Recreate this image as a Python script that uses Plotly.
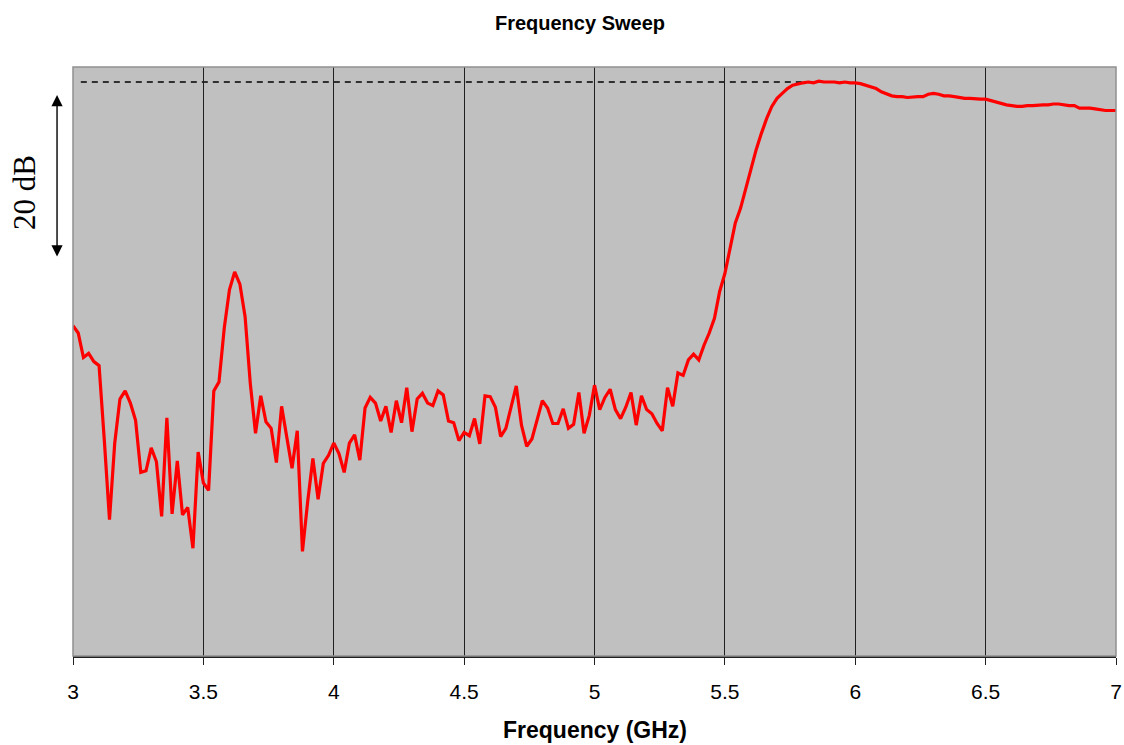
import plotly.graph_objects as go

# Frequency sweep: 3 to 7 GHz in 0.02 GHz steps
f_start = 3.0
f_step = 0.02
# Relative response in dB (0 dB = dashed reference level)
response_db = [
    -29.9, -30.8, -33.8, -33.3, -34.3, -34.8, -43.9, -53.7, -44.3, -38.9,
    -37.9, -39.4, -41.5, -47.9, -47.7, -44.9, -46.6, -53.3, -41.2, -53.0,
    -46.5, -53.1, -52.2, -57.2, -45.4, -49.2, -50.1, -37.9, -36.8, -30.2,
    -25.5, -23.3, -24.8, -28.8, -37.0, -43.1, -38.5, -41.7, -42.5, -46.7,
    -39.8, -43.5, -47.4, -42.8, -57.6, -51.5, -46.2, -51.2, -46.8, -45.8,
    -44.3, -45.6, -47.9, -44.3, -43.3, -46.4, -40.0, -38.7, -39.4, -41.6,
    -39.8, -43.0, -39.1, -41.8, -37.5, -42.9, -38.9, -38.2, -39.4, -39.7,
    -37.9, -38.4, -41.6, -41.8, -44.0, -43.0, -43.4, -41.3, -44.4, -38.5,
    -38.6, -39.9, -43.5, -42.5, -39.8, -37.3, -42.1, -44.7, -43.8, -41.4,
    -39.1, -40.0, -41.9, -41.9, -40.1, -42.5, -42.0, -38.1, -43.1, -40.9,
    -37.2, -40.2, -38.7, -37.7, -40.2, -41.3, -39.9, -38.1, -42.1, -38.5,
    -40.2, -40.7, -41.9, -42.8, -37.5, -39.8, -35.7, -36.0, -34.1, -33.4,
    -34.1, -32.3, -30.8, -29.0, -25.7, -23.5, -20.4, -17.3, -15.5, -13.0,
    -10.6, -8.3, -6.3, -4.5, -3.0, -2.0, -1.4, -0.8, -0.4, -0.2,
    -0.1, 0.0, -0.1, 0.1, 0.0, 0.0, 0.0, -0.1, 0.0, -0.1,
    -0.1, -0.2, -0.4, -0.6, -0.8, -1.2, -1.5, -1.7, -1.8, -1.8,
    -1.9, -1.8, -1.8, -1.8, -1.5, -1.4, -1.5, -1.7, -1.7, -1.8,
    -1.9, -2.0, -2.0, -2.1, -2.1, -2.1, -2.3, -2.5, -2.6, -2.8,
    -2.9, -3.0, -3.0, -2.9, -2.9, -2.8, -2.8, -2.8, -2.7, -2.7,
    -2.8, -2.9, -2.9, -3.2, -3.2, -3.2, -3.3, -3.4, -3.5, -3.5,
    -3.5,
]
freq_ghz = [round(f_start + f_step * i, 2) for i in range(len(response_db))]

x_ticks = [3, 3.5, 4, 4.5, 5, 5.5, 6, 6.5, 7]
x_tick_labels = ["3", "3.5", "4", "4.5", "5", "5.5", "6", "6.5", "7"]
ref_level_db = 0.0
ref_line_end = 5.95
span_db = 20
span_top_db = -1.6

y_min, y_max = -70.43, 1.84
plot_h_px = 745 - 67 - 89
px_per_db = plot_h_px / (y_max - y_min)

fig = go.Figure()
fig.add_trace(go.Scatter(
    x=freq_ghz, y=response_db, mode="lines",
    line=dict(color="#ff0000", width=3.2),
    showlegend=False, hoverinfo="x+y",
))

fig.update_layout(
    width=1124, height=745,
    margin=dict(l=73, r=8, t=67, b=89),
    paper_bgcolor="white",
    plot_bgcolor="#c0c0c0",
    title=dict(text="<b>Frequency Sweep</b>", x=0.516, xanchor="center",
               y=1 - 23 / 745, yanchor="middle", yref="container",
               font=dict(family="Liberation Sans, Arial", size=20, color="black")),
    font=dict(family="Liberation Sans, Arial", color="black"),
    xaxis=dict(
        range=[3, 7], tickvals=x_ticks, ticktext=x_tick_labels,
        automargin=False,
        showgrid=True, gridcolor="#202020", gridwidth=1,
        showline=True, linecolor="#202020", linewidth=1.5,
        ticks="outside", ticklen=7, tickcolor="#202020",
        ticklabelstandoff=9,
        tickfont=dict(size=21, family="Liberation Sans, Arial"),
        zeroline=False,
    ),
    yaxis=dict(
        range=[y_min, y_max], showgrid=False, zeroline=False,
        automargin=False,
        showticklabels=False, ticks="", showline=False,
    ),
)

# x-axis title
fig.add_annotation(
    x=0.5, xref="paper", y=-(730 - 656) / plot_h_px, yref="paper",
    text="<b>Frequency (GHz)</b>", showarrow=False,
    xanchor="center", yanchor="middle",
    font=dict(size=23, family="Liberation Sans, Arial", color="black"),
)

# plot border
fig.add_shape(type="rect", xref="paper", yref="paper", x0=0, x1=1, y0=0, y1=1,
              line=dict(color="#909090", width=1.5), layer="above")
# dashed reference level
fig.add_shape(type="line", xref="x", yref="y", x0=3.03, x1=ref_line_end,
              y0=ref_level_db, y1=ref_level_db,
              line=dict(color="black", width=1.5, dash="6px,5px"), layer="below")

# 20 dB double arrow
fig.add_annotation(
    x=-0.0153, xref="paper", y=span_top_db, yref="y",
    ax=0, axref="pixel", ay=span_db * px_per_db, ayref="pixel",
    text="", showarrow=True, arrowside="end+start",
    arrowhead=2, arrowsize=1.6, arrowwidth=1.4, arrowcolor="black",
)
fig.add_annotation(
    x=-0.047, xref="paper", y=(82 - 192) / px_per_db, yref="y",
    text=f"{span_db} dB", showarrow=False, textangle=-90,
    font=dict(family="Liberation Serif, Times New Roman", size=31, color="black"),
    xanchor="center", yanchor="middle",
)

fig.write_html("out.html")
